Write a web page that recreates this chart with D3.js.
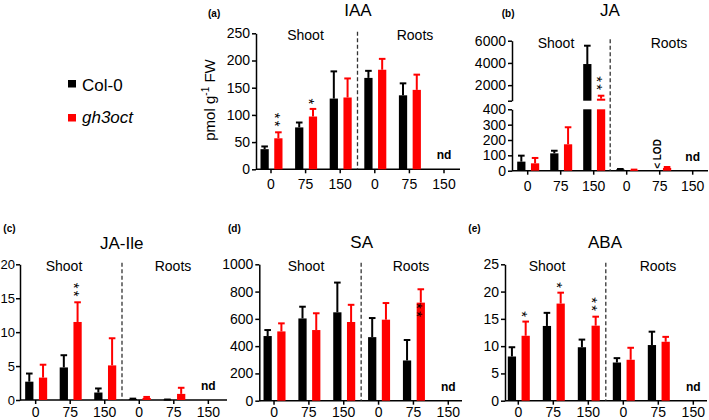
<!DOCTYPE html>
<html><head><meta charset="utf-8">
<script src="https://cdn.jsdelivr.net/npm/d3@7"></script>
<style>
body{margin:0;background:#fff}
svg{display:block}
text{font-family:"Liberation Sans",Arial,Helvetica,sans-serif}
</style>
</head><body>
<svg id="chart" width="709" height="420"></svg>
<script>
// ---------------- DATA ----------------
const groups = ["Shoot 0","Shoot 75","Shoot 150","Roots 0","Roots 75","Roots 150"];
const tickLabels = ["0","75","150","0","75","150"];
const series = ["Col-0","gh3oct"];

// IAA (pmol g-1 FW)
const iaaCol = [37, 77, 130, 168, 136, null];
const iaaColSd = [5, 9, 50, 13, 22, null];
const iaaGh3 = [57, 97, 132, 183, 146, null];
const iaaGh3Sd = [11, 14, 35, 20, 28, null];
const iaaStars = [{group:"Shoot 0", mark:"**"}, {group:"Shoot 75", mark:"*"}];

// JA
const jaCol = [59, 113, 3900, 9, null, null];
const jaColSd = [39, 17, 1650, 2, null, null];
const jaGh3 = [48, 172, 780, 5, 18, null];
const jaGh3Sd = [35, 111, 270, 2, 6, null];
const jaStars = [{group:"Shoot 150", mark:"**"}];

// JA-Ile
const jaileCol = [2.7, 4.8, 1.1, 0.15, 0.05, null];
const jaileColSd = [1.2, 1.8, 0.6, 0.05, 0.02, null];
const jaileGh3 = [3.3, 11.5, 5.1, 0.3, 0.9, null];
const jaileGh3Sd = [1.9, 2.9, 4.0, 0.15, 0.9, null];
const jaileStars = [{group:"Shoot 75", mark:"**"}];

// SA
const saCol = [474, 603, 648, 466, 295, null];
const saColSd = [44, 86, 218, 140, 150, null];
const saGh3 = [508, 518, 577, 594, 719, null];
const saGh3Sd = [59, 123, 126, 122, 98, null];
const saStars = [{group:"Roots 75", mark:"**"}];

// ABA
const abaCol = [8.1, 13.7, 9.8, 7.0, 10.2, null];
const abaColSd = [1.7, 2.4, 1.4, 0.8, 2.45, null];
const abaGh3 = [11.9, 17.8, 13.75, 7.5, 10.8, null];
const abaGh3Sd = [2.6, 2.0, 1.65, 2.2, 0.9, null];
const abaStars = [{group:"Shoot 0", mark:"*"}, {group:"Shoot 75", mark:"*"}, {group:"Shoot 150", mark:"**"}];

// Axis ticks
const iaaTicks = [0, 50, 100, 150, 200, 250];
const jaLowTicks = [0, 100, 200, 300, 400];
const jaHighTicks = [2000, 4000, 6000];
const jaileTicks = [0, 5, 10, 15, 20];
const saTicks = [0, 200, 400, 600, 800, 1000];
const abaTicks = [0, 5, 10, 15, 20, 25];

// ---------------- DRAWING ----------------
const svg = d3.select("#chart");
const COLOR = {"Col-0":"#000000", "gh3oct":"#ff0000"};
const FF = '"Liberation Sans",Arial,Helvetica,sans-serif';
const fmt = d3.format("d");

function styleAxis(sel, fs){
  sel.attr("font-family", FF).attr("font-size", fs || 14);
  sel.select(".domain").attr("stroke","#000").attr("stroke-width",1.5);
  sel.selectAll(".tick line").attr("stroke","#000").attr("stroke-width",1.5);
  sel.selectAll(".tick text").attr("fill","#000");
}

function drawPanel(cfg){
  const g = svg.append("g");
  const x = d3.scaleBand().domain(groups).range([cfg.x0, cfg.x1]).padding(0);
  const inner = d3.scaleBand().domain(series).range([-10.5, 11.5]).paddingInner(0.4);
  const cx = gr => x(gr) + x.bandwidth()/2;
  const yfs = cfg.yFont || 14, ypad = cfg.yPad != null ? cfg.yPad : 2;
  const xLabOff = cfg.xLabOff || 20;

  let yv, segs;
  if (cfg.broken){
    const low = d3.scaleLinear().domain([0, cfg.breakLow]).range([cfg.y0, cfg.lowTop]);
    const high = d3.scaleLinear().domain([cfg.breakHigh, cfg.yMax]).range([cfg.highBottom, cfg.yTop]);
    yv = v => v <= cfg.breakLow ? low(v) : high(Math.max(v, cfg.breakHigh));
    segs = v => v <= cfg.breakLow ? [[low(0), low(v)]] : [[low(0), low(cfg.breakLow)], [high(cfg.breakHigh), high(v)]];
    const aLow = d3.axisLeft(low).tickValues(jaLowTicks).tickFormat(fmt).tickSize(4).tickPadding(ypad).tickSizeOuter(0);
    const aHigh = d3.axisLeft(high).tickValues([cfg.breakHigh].concat(jaHighTicks)).tickFormat(d => d === cfg.breakHigh ? "" : fmt(d))
      .tickSize(4).tickPadding(ypad).tickSizeOuter(0);
    g.append("g").attr("transform",`translate(${cfg.axisX},0)`).call(aLow).call(styleAxis, yfs);
    g.append("g").attr("transform",`translate(${cfg.axisX},0)`).call(aHigh).call(styleAxis, yfs);
  } else {
    const y = d3.scaleLinear().domain([0, cfg.yMax]).range([cfg.y0, cfg.yTop]);
    yv = v => y(v);
    segs = v => [[y(0), y(v)]];
    const ax = d3.axisLeft(y).tickValues(cfg.ticks).tickFormat(fmt).tickSize(4).tickPadding(ypad).tickSizeOuter(0);
    g.append("g").attr("transform",`translate(${cfg.axisX},0)`).call(ax).call(styleAxis, yfs);
  }

  // x axis
  g.append("line").attr("x1", cfg.axisX).attr("x2", cfg.axisEnd).attr("y1", cfg.y0).attr("y2", cfg.y0)
    .attr("stroke","#000").attr("stroke-width",1.5);
  groups.forEach((gr,i)=>{
    g.append("line").attr("x1", cx(gr)).attr("x2", cx(gr)).attr("y1", cfg.y0).attr("y2", cfg.y0+4)
      .attr("stroke","#000").attr("stroke-width",1.5);
    g.append("text").attr("x", cx(gr)).attr("y", cfg.y0 + xLabOff).attr("text-anchor","middle")
      .attr("font-size",14).attr("fill","#000").text(tickLabels[i]);
  });

  // dashed separator
  const sepX = x(groups[3]);
  g.append("line").attr("x1",sepX).attr("x2",sepX).attr("y1",cfg.yTop-1.5).attr("y2",cfg.y0)
    .attr("stroke","#333").attr("stroke-width",1.3).attr("stroke-dasharray","4,2.5");

  // bars + error bars
  const bw = inner.bandwidth();
  series.forEach((s, si)=>{
    const vals = cfg.values[si], sds = cfg.sds[si];
    groups.forEach((gr, gi)=>{
      const v = vals[gi];
      if (v == null) return;
      const bx = cx(gr) + inner(s);
      const mid = bx + bw/2;
      const sd = sds[gi] || 0;
      const top = yv(v + sd);
      g.append("line").attr("x1",mid).attr("x2",mid).attr("y1",yv(v)).attr("y2",top)
        .attr("stroke",COLOR[s]).attr("stroke-width",2);
      g.append("line").attr("x1",mid-3.3).attr("x2",mid+3.3).attr("y1",top).attr("y2",top)
        .attr("stroke",COLOR[s]).attr("stroke-width",2);
      segs(v).forEach(([a,b])=>{
        g.append("rect").attr("x",bx).attr("width",bw).attr("y",Math.min(a,b)).attr("height",Math.max(Math.abs(a-b),0.6))
          .attr("fill",COLOR[s]);
      });
    });
  });

  // significance stars (for gh3oct): stacked vertically, drawn as one rotated text
  const s = "gh3oct";
  cfg.stars.forEach(st=>{
    const gi = groups.indexOf(st.group);
    const v = cfg.values[1][gi], sd = cfg.sds[1][gi];
    const mid = cx(st.group) + inner(s) + bw/2;
    const n = st.mark.length;
    const topC = cfg.starsInside ? yv(v) + 4.5 : yv(v+sd) - 7.5 - (n-1)*8;
    const centreY = topC + (n-1)*4;
    g.append("text")
      .attr("transform",`translate(${mid - 8.6},${centreY}) rotate(90)`)
      .attr("text-anchor","middle").attr("font-size",15).attr("letter-spacing", n>1 ? 2.2 : 0)
      .attr("fill","#000").text(st.mark);
  });

  // nd label
  g.append("text").attr("x", cx(groups[5])).attr("y", cfg.y0-10).attr("text-anchor","middle")
    .attr("font-size",12).attr("font-weight","bold").attr("fill","#000").text("nd");

  // Shoot / Roots
  g.append("text").attr("x",cfg.shootX).attr("y",cfg.yTop+7).attr("text-anchor","middle")
    .attr("font-size",14).attr("fill","#000").text("Shoot");
  g.append("text").attr("x",cfg.rootsX).attr("y",cfg.yTop+7).attr("text-anchor","middle")
    .attr("font-size",14).attr("fill","#000").text("Roots");

  // title and letter
  g.append("text").attr("x",cfg.title[0]).attr("y",cfg.title[1]).attr("text-anchor","middle")
    .attr("font-size",17).attr("fill","#000").text(cfg.name);
  g.append("text").attr("x",cfg.letter[0]).attr("y",cfg.letter[1])
    .attr("font-size",10).attr("font-weight","bold").attr("fill","#000").text(cfg.letterText);

  return {g, cx, inner, yv};
}

// (a) IAA
const pa = drawPanel({name:"IAA", letterText:"(a)", axisX:256, x0:253.7, x1:461.3, axisEnd:460,
  y0:169.3, yTop:33.3, yMax:250, ticks:iaaTicks, values:[iaaCol,iaaGh3], sds:[iaaColSd,iaaGh3Sd], stars:iaaStars,
  title:[358,16], letter:[208,16.7], shootX:305.5, rootsX:415});
pa.g.append("text").attr("transform","translate(215,100) rotate(-90)").attr("text-anchor","middle")
  .attr("font-size",15).attr("fill","#000")
  .call(t=>{ t.append("tspan").text("pmol g");
             t.append("tspan").attr("font-size",10).attr("dy",-6).text("-1");
             t.append("tspan").attr("dy",6).text(" FW"); });

// (b) JA
const pb = drawPanel({name:"JA", letterText:"(b)", axisX:512, x0:511.2, x1:709.2, axisEnd:708,
  broken:true, y0:170.7, breakLow:400, lowTop:109.3, breakHigh:600, highBottom:100.7, yTop:40.7, yMax:6000,
  values:[jaCol,jaGh3], sds:[jaColSd,jaGh3Sd], stars:jaStars,
  title:[610,16], letter:[501.7,16.7], shootX:556, rootsX:669});
{
  const lodX = pb.cx("Roots 75") + pb.inner("Col-0") + pb.inner.bandwidth()/2 + 8;
  pb.g.append("text").attr("transform",`translate(${lodX},154) rotate(-90)`).attr("text-anchor","middle")
    .attr("font-size",10).attr("font-weight","bold").attr("fill","#000").text("< LOD");
}

// (c) JA-Ile
drawPanel({name:"JA-Ile", letterText:"(c)", axisX:20, x0:18.4, x1:225.6, axisEnd:227,
  y0:400, yTop:264.3, yMax:20, ticks:jaileTicks, yFont:13, yPad:1, xLabOff:16.5,
  values:[jaileCol,jaileGh3], sds:[jaileColSd,jaileGh3Sd], stars:jaileStars,
  title:[121.7,249], letter:[3.3,232.3], shootX:64, rootsX:173});

// (d) SA
drawPanel({name:"SA", letterText:"(d)", axisX:259.3, x0:256.6, x1:465.7, axisEnd:462, xLabOff:16,
  y0:400.7, yTop:264.3, yMax:1000, ticks:saTicks, values:[saCol,saGh3], sds:[saColSd,saGh3Sd], stars:saStars, starsInside:true,
  title:[361.7,247.5], letter:[228,232.3], shootX:306, rootsX:411});

// (e) ABA
drawPanel({name:"ABA", letterText:"(e)", axisX:505, x0:500.8, x1:710.8, axisEnd:707, xLabOff:16,
  y0:400.7, yTop:264.3, yMax:25, ticks:abaTicks, values:[abaCol,abaGh3], sds:[abaColSd,abaGh3Sd], stars:abaStars,
  title:[605,247.5], letter:[468.3,232.3], shootX:547, rootsX:658});

// Legend
const leg = svg.append("g");
series.forEach((s,i)=>{
  leg.append("rect").attr("x",68).attr("y",80 + i*34).attr("width",8).attr("height",7.5).attr("fill",COLOR[s]);
  leg.append("text").attr("x",82).attr("y",90.5 + i*32).attr("font-size",17).attr("fill","#000")
    .attr("font-style", i===1 ? "italic" : "normal").text(s);
});
</script>
</body></html>
